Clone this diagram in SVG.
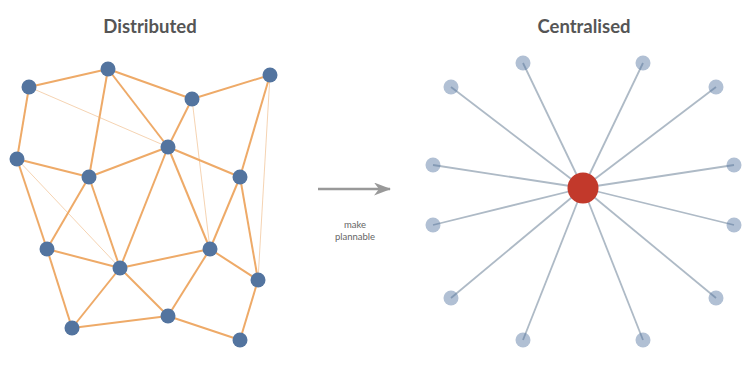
<svg xmlns="http://www.w3.org/2000/svg" width="756" height="370" viewBox="0 0 756 370">
<defs>
<style>
.title{font-family:Lato,"Liberation Sans",sans-serif;font-weight:bold;font-size:18.5px;fill:#555;text-anchor:middle}
.lbl{font-family:Lato,"Liberation Sans",sans-serif;font-size:9.5px;fill:#666;text-anchor:middle}
.e{stroke:#eeaa68;stroke-width:2;fill:none}
.t{stroke:#f3c89e;stroke-width:0.8;fill:none}
.n{fill:#53749f}
.s{stroke:#aebac6;stroke-width:1.8}
.sat{fill:#53749f;fill-opacity:0.45}
.hub{fill:#c2392b}
</style>
<marker id="ah" viewBox="0 0 17 13" refX="16" refY="6.5" markerWidth="17" markerHeight="13" orient="auto" markerUnits="userSpaceOnUse">
<path d="M0,0 L17,6.5 L0,13 L5,6.5 Z" fill="#999"/>
</marker>
</defs>
<rect width="756" height="370" fill="#fff"/>
<text class="title" x="150" y="33">Distributed</text>
<text class="title" x="584" y="33">Centralised</text>
<g id="connectors">
<g id="distributed-edges">
<line class="t" x1="29" y1="87" x2="168" y2="147"/>
<line class="t" x1="192" y1="99" x2="210" y2="249"/>
<line class="t" x1="270" y1="75" x2="258" y2="280"/>
<line class="t" x1="17" y1="159" x2="120" y2="268"/>
<line class="e" x1="29" y1="87" x2="108" y2="69"/>
<line class="e" x1="108" y1="69" x2="192" y2="99"/>
<line class="e" x1="192" y1="99" x2="270" y2="75"/>
<line class="e" x1="29" y1="87" x2="17" y2="159"/>
<line class="e" x1="108" y1="69" x2="89" y2="177"/>
<line class="e" x1="108" y1="69" x2="168" y2="147"/>
<line class="e" x1="192" y1="99" x2="168" y2="147"/>
<line class="e" x1="270" y1="75" x2="240" y2="177"/>
<line class="e" x1="17" y1="159" x2="89" y2="177"/>
<line class="e" x1="89" y1="177" x2="168" y2="147"/>
<line class="e" x1="168" y1="147" x2="240" y2="177"/>
<line class="e" x1="17" y1="159" x2="47" y2="249"/>
<line class="e" x1="89" y1="177" x2="47" y2="249"/>
<line class="e" x1="89" y1="177" x2="120" y2="268"/>
<line class="e" x1="168" y1="147" x2="120" y2="268"/>
<line class="e" x1="168" y1="147" x2="210" y2="249"/>
<line class="e" x1="240" y1="177" x2="210" y2="249"/>
<line class="e" x1="240" y1="177" x2="258" y2="280"/>
<line class="e" x1="47" y1="249" x2="120" y2="268"/>
<line class="e" x1="47" y1="249" x2="72" y2="328"/>
<line class="e" x1="120" y1="268" x2="210" y2="249"/>
<line class="e" x1="120" y1="268" x2="72" y2="328"/>
<line class="e" x1="120" y1="268" x2="168" y2="316"/>
<line class="e" x1="210" y1="249" x2="168" y2="316"/>
<line class="e" x1="210" y1="249" x2="258" y2="280"/>
<line class="e" x1="258" y1="280" x2="240" y2="340"/>
<line class="e" x1="168" y1="316" x2="240" y2="340"/>
<line class="e" x1="72" y1="328" x2="168" y2="316"/>
</g>
<g id="central-edges">
<line class="s" x1="583" y1="188" x2="523" y2="63"/>
<line class="s" x1="583" y1="188" x2="643" y2="63"/>
<line class="s" x1="583" y1="188" x2="451" y2="87"/>
<line class="s" x1="583" y1="188" x2="716" y2="87"/>
<line class="s" x1="583" y1="188" x2="433" y2="165"/>
<line class="s" x1="583" y1="188" x2="734" y2="165"/>
<line class="s" x1="583" y1="188" x2="433" y2="225"/>
<line class="s" x1="583" y1="188" x2="734" y2="225"/>
<line class="s" x1="583" y1="188" x2="451" y2="298"/>
<line class="s" x1="583" y1="188" x2="716" y2="298"/>
<line class="s" x1="583" y1="188" x2="523" y2="340"/>
<line class="s" x1="583" y1="188" x2="643" y2="340"/>
</g>
<g id="transform-arrow">
<line x1="318" y1="189" x2="390" y2="189" stroke="#999" stroke-width="2.5" marker-end="url(#ah)"/>
</g>
</g>
<text class="lbl" x="355" y="228">make</text>
<text class="lbl" x="355" y="240">plannable</text>
<g id="distributed-nodes">
<circle id="d1" class="n" cx="29" cy="87" r="7.5"/>
<circle id="d2" class="n" cx="108" cy="69" r="7.5"/>
<circle id="d3" class="n" cx="192" cy="99" r="7.5"/>
<circle id="d4" class="n" cx="270" cy="75" r="7.5"/>
<circle id="d5" class="n" cx="17" cy="159" r="7.5"/>
<circle id="d6" class="n" cx="89" cy="177" r="7.5"/>
<circle id="d7" class="n" cx="168" cy="147" r="7.5"/>
<circle id="d8" class="n" cx="240" cy="177" r="7.5"/>
<circle id="d9" class="n" cx="47" cy="249" r="7.5"/>
<circle id="d10" class="n" cx="120" cy="268" r="7.5"/>
<circle id="d11" class="n" cx="210" cy="249" r="7.5"/>
<circle id="d12" class="n" cx="258" cy="280" r="7.5"/>
<circle id="d13" class="n" cx="72" cy="328" r="7.5"/>
<circle id="d14" class="n" cx="168" cy="316" r="7.5"/>
<circle id="d15" class="n" cx="240" cy="340" r="7.5"/>
</g>
<g id="central-nodes">
<circle id="c1" class="sat" cx="523" cy="63" r="7.5"/>
<circle id="c2" class="sat" cx="643" cy="63" r="7.5"/>
<circle id="c3" class="sat" cx="451" cy="87" r="7.5"/>
<circle id="c4" class="sat" cx="716" cy="87" r="7.5"/>
<circle id="c5" class="sat" cx="433" cy="165" r="7.5"/>
<circle id="c6" class="sat" cx="734" cy="165" r="7.5"/>
<circle id="c7" class="sat" cx="433" cy="225" r="7.5"/>
<circle id="c8" class="sat" cx="734" cy="225" r="7.5"/>
<circle id="c9" class="sat" cx="451" cy="298" r="7.5"/>
<circle id="c10" class="sat" cx="716" cy="298" r="7.5"/>
<circle id="c11" class="sat" cx="523" cy="340" r="7.5"/>
<circle id="c12" class="sat" cx="643" cy="340" r="7.5"/>
<circle id="hub" class="hub" cx="583" cy="188" r="15.5"/>
</g>
</svg>
